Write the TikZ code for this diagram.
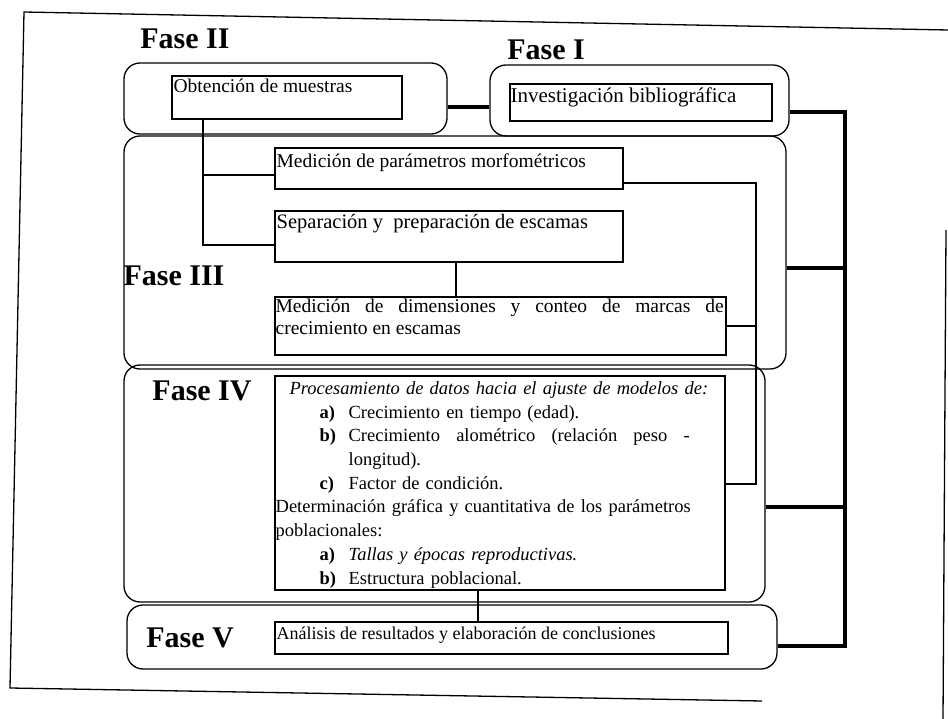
\documentclass[tikz,border=0pt]{standalone}
\usepackage{fontspec}
\setmainfont{Liberation Serif}

\tikzset{
  fase/.style={draw, line width=1.3pt, rounded corners=16pt, inner sep=0pt},
  caja/.style={draw, line width=1.1pt, inner sep=0pt},
  etiqueta/.style={font=\fontsize{30}{32}\selectfont\bfseries, inner sep=0pt},
  texto/.style={font=\fontsize{19.5}{22}\selectfont, anchor=north west, inner sep=0pt},
  liga/.style={line width=1.1pt},
  troncal/.style={line width=3.6pt},
}
\newcommand{\inciso}[1]{\hspace*{44pt}\makebox[29pt][l]{\textbf{#1}}}

\begin{document}
\begin{tikzpicture}[x=1pt,y=-1pt]
\useasboundingbox (0,0) rectangle (948,719);
% marco
\draw[line width=1.3pt] (948,30) -- (24,12) -- (10,688) -- (762,701);
\draw[line width=1.3pt] (946,230) -- (943,719);

% fases
\node[fase, minimum width=323, minimum height=71] (f2) at (285.5,98.5) {};
\node[fase, minimum width=299, minimum height=71] (f1) at (639.5,100.5) {};
\node[fase, minimum width=662, minimum height=233] (f3) at (455,252.5) {};
\node[fase, minimum width=641, minimum height=237] (f4) at (444.5,483.5) {};
\node[fase, minimum width=650, minimum height=64] (f5) at (452,637) {};

\node[etiqueta] (lII) at (185,39) {Fase II};
\node[etiqueta] (lI) at (546,50) {Fase I};
\node[etiqueta] (lIII) at (174,276) {Fase III};
\node[etiqueta] (lIV) at (202,391) {Fase IV};
\node[etiqueta] (lV) at (190,638) {Fase V};

% cajas
\node[caja, minimum width=230, minimum height=43] (obt) at (287,97.5) {};
\node[caja, minimum width=262, minimum height=37] (inv) at (641,102.5) {};
\node[caja, minimum width=348, minimum height=41] (mp) at (449,168.5) {};
\node[caja, minimum width=348, minimum height=51] (sp) at (449,236.5) {};
\node[caja, minimum width=451, minimum height=58] (md) at (500.5,326) {};
\node[caja, minimum width=450, minimum height=214] (pb) at (500,483) {};
\node[caja, minimum width=453, minimum height=32] (an) at (501.5,638) {};

\node[texto] (tobt) at ([xshift=2,yshift=-3]obt.north west) {Obtención de muestras};
\node[texto, font=\fontsize{21}{22}\selectfont] (tinv) at ([xshift=1,yshift=-4]inv.north west) {Investigación bibliográfica};
\node[texto] (tmp) at ([xshift=2,yshift=-6]mp.north west) {Medición de parámetros morfométricos};
\node[texto, font=\fontsize{20.5}{22}\selectfont] (tsp) at ([xshift=2,yshift=-4]sp.north west) {Separación y\ \ preparación de escamas};
\node[texto, text width=448, align=justify] (tmd) at ([xshift=1,yshift=-2]md.north west)
  {Medición de dimensiones y conteo de marcas de\linebreak crecimiento en escamas};
\node[texto, font=\fontsize{18.5}{23.7}\selectfont, text width=448, align=left] (tpb)
  at ([xshift=1,yshift=-6]pb.north west) {%
  \hspace*{14pt}\textit{Procesamiento de datos hacia el ajuste de modelos de:}\\
  \inciso{a)}Crecimiento en tiempo (edad).\\
  \inciso{b)}\makebox[341pt][l]{Crecimiento\hfill alométrico\hfill (relación\hfill peso\hfill -}\\
  \hspace*{73pt}longitud).\\
  \inciso{c)}Factor de condición.\\
  Determinación gráfica y cuantitativa de los parámetros\\
  poblacionales:\\
  \inciso{a)}\textit{Tallas y épocas reproductivas.}\\
  \inciso{b)}Estructura poblacional.};
\node[texto, font=\fontsize{18}{22}\selectfont] (tan) at ([xshift=2,yshift=-5]an.north west) {Análisis de resultados y elaboración de conclusiones};

% conexiones
\coordinate (k) at (470,107);
\draw[troncal] (f2.east |- k) -- (f1.west |- k);

\coordinate (s1) at (845,112);
\coordinate (s3) at (845,268);
\coordinate (s4) at (845,507);
\coordinate (s5) at (845,646);
\draw[troncal] (f1.east |- s1) -- (s1) -- (s5) -- (f5.east |- s5);
\draw[troncal] (f3.east |- s3) -- (s3);
\draw[troncal] (f4.east |- s4) -- (s4);

\draw[liga] ([xshift=-84]obt.south) |- ([yshift=-6.5]mp.west);
\draw[liga] ([xshift=-84]obt.south) |- ([yshift=-8.5]sp.west);
\draw[liga] ([xshift=7]sp.south) -- ([xshift=7]sp.south |- md.north);

\coordinate (d1) at (756,183);
\coordinate (d2) at (756,484);
\draw[liga] (mp.east |- d1) -- (d1) -- (d2) -- (pb.east |- d2);
\draw[liga] (md.east) -- (md.east -| d1);

\draw[liga] ([xshift=-22]pb.south) -- ([xshift=-22]pb.south |- an.north);
\end{tikzpicture}
\end{document}
